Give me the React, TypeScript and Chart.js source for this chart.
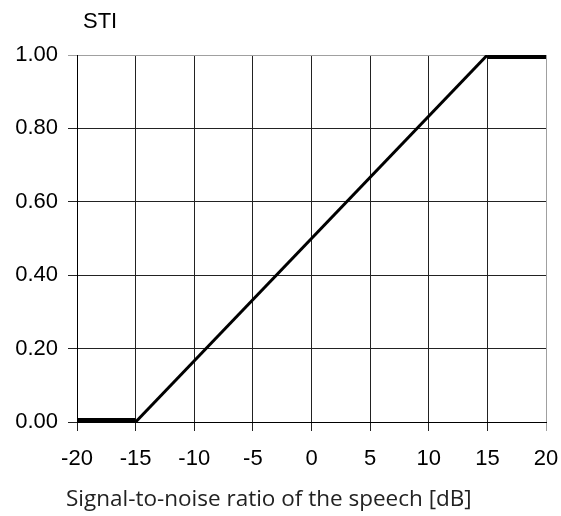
import React, { useEffect, useRef } from "react";
import { Chart, registerables } from "chart.js";

Chart.register(...registerables);

// Data
const snrDb = [-20, -15, 15, 20];
const stiValues = [0, 0, 1, 1];
const xMin = -20;
const xMax = 20;
const xStep = 5;
const yMin = 0;
const yMax = 1;
const yStep = 0.2;
const yAxisTitle = "STI";
const xAxisTitle = "Signal-to-noise ratio of the speech [dB]";

const TICK_FONT = "Liberation Sans";

const titlesPlugin = {
  id: "axisTitles",
  afterDraw(chart: any) {
    const { ctx, chartArea } = chart;
    ctx.save();
    ctx.fillStyle = "#000";
    ctx.font = `22px "${TICK_FONT}"`;
    ctx.textAlign = "left";
    ctx.textBaseline = "alphabetic";
    ctx.fillText(yAxisTitle, chartArea.left + 6, chartArea.top - 27);
    ctx.fillStyle = "#222";
    ctx.font = `22.5px "Open Sans"`;
    ctx.fillText(xAxisTitle, chartArea.left - 11, 506);
    ctx.restore();
  },
};

export default function App() {
  const canvasRef = useRef<HTMLCanvasElement | null>(null);

  useEffect(() => {
    if (!canvasRef.current) return;
    const chart = new Chart(canvasRef.current, {
      type: "line",
      data: {
        datasets: [
          {
            data: snrDb.map((x, i) => ({ x, y: stiValues[i] })),
            borderColor: "#000",
            borderWidth: 3,
            pointRadius: 0,
            borderJoinStyle: "round",
            segment: {
              borderWidth: (c: any) => (c.p0.parsed.y === c.p1.parsed.y ? 8 : 3),
            },
          } as any,
        ],
      },
      options: {
        animation: false,
        responsive: false,
        layout: { padding: { top: 55, right: 15, left: 0, bottom: 0 } },
        plugins: {
          legend: { display: false },
          tooltip: { enabled: false },
          title: { display: false },
        },
        scales: {
          x: {
            type: "linear",
            min: xMin,
            max: xMax,
            afterFit: (s: any) => {
              s.height = 94;
              s.paddingLeft = 0;
              s.paddingRight = 0;
            },
            ticks: {
              stepSize: xStep,
              color: "#000",
              font: { family: TICK_FONT, size: 22 },
              padding: 15,
              maxRotation: 0,
              callback: (v: any) => String(v),
            },
            grid: {
              color: (c: any) => (c.tick && c.tick.value === xMax ? "#a0a0a0" : "#222"),
              lineWidth: 1,
              tickLength: 9,
            },
            border: { color: "#000", width: 1 },
          },
          y: {
            type: "linear",
            min: yMin,
            max: yMax,
            afterFit: (s: any) => {
              s.width = 77;
              s.paddingTop = 0;
              s.paddingBottom = 0;
            },
            ticks: {
              stepSize: yStep,
              color: "#000",
              font: { family: TICK_FONT, size: 22 },
              padding: 10,
              callback: (v: any) => Number(v).toFixed(2),
            },
            grid: {
              color: (c: any) => (c.tick && Math.abs(c.tick.value - yMax) < 1e-9 ? "#a0a0a0" : "#222"),
              lineWidth: 1,
              tickLength: 9,
            },
            border: { color: "#000", width: 1 },
          },
        },
      },
      plugins: [titlesPlugin],
    });
    return () => chart.destroy();
  }, []);

  return (
    <div style={{ position: "absolute", left: 0, top: 0, width: 561, height: 516, background: "#fff" }}>
      <canvas ref={canvasRef} width={561} height={516} />
    </div>
  );
}
